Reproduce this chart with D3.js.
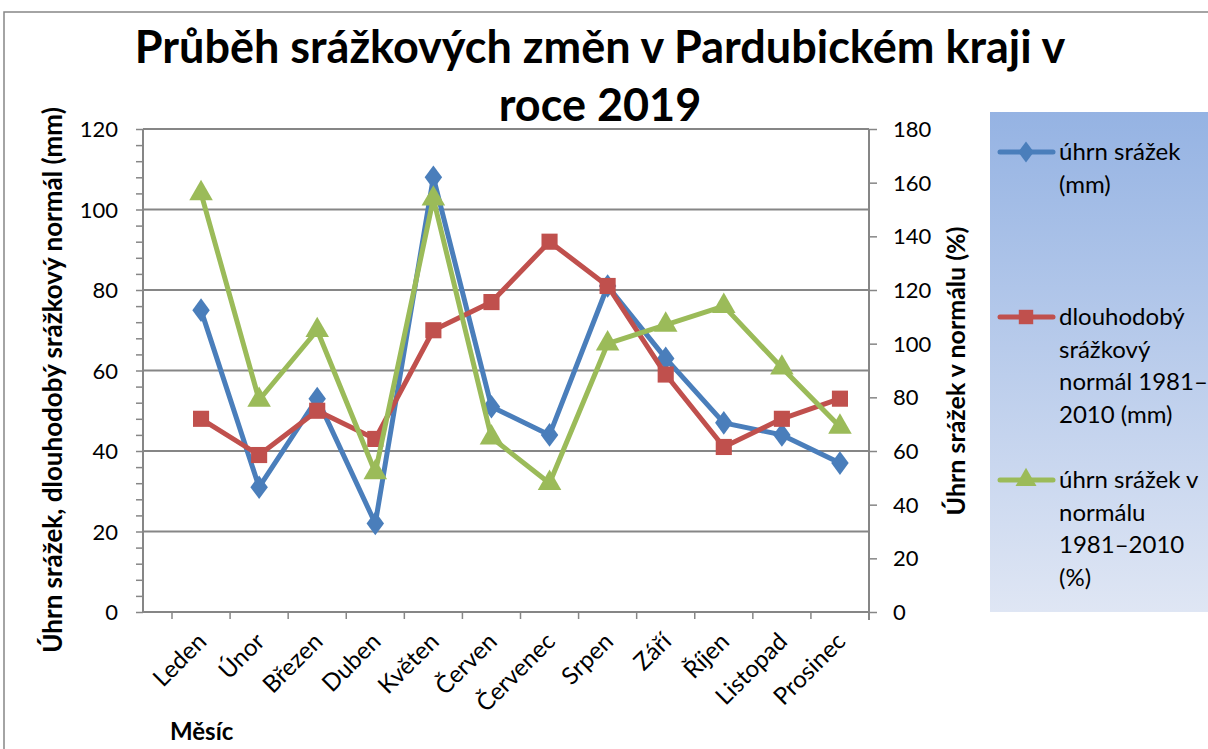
<!DOCTYPE html>
<html>
<head>
<meta charset="utf-8">
<script src="https://cdn.jsdelivr.net/npm/d3@7"></script>
<style>
  body { margin: 0; background: #fff; }
  svg { display: block; font-family: Lato, "Open Sans", sans-serif; }
</style>
</head>
<body>
<svg id="viz" width="1208" height="749"></svg>
<script>
// data
var months = ['Leden', 'Únor', 'Březen', 'Duben', 'Květen', 'Červen',
  'Červenec', 'Srpen', 'Září', 'Říjen', 'Listopad', 'Prosinec'];
var srazkyMm = [75, 31, 53, 22, 108, 51, 44, 81, 63, 47, 44, 37];
var normalMm = [48, 39, 50, 43, 70, 77, 92, 81, 59, 41, 48, 53];
var srazkyPct = [156, 79, 105, 52, 154, 65, 48, 100, 107, 114, 91, 69];
var leftTicks = [0, 20, 40, 60, 80, 100, 120];
var rightTicks = [0, 20, 40, 60, 80, 100, 120, 140, 160, 180];

var seriesNames = [
  ['úhrn srážek', '(mm)'],
  ['dlouhodobý', 'srážkový', 'normál 1981–', '2010 (mm)'],
  ['úhrn srážek v', 'normálu', '1981–2010', '(%)']
];

(function () {
  'use strict';
  var svg = d3.select('#viz'),
    axisCol = '#868686',
    colors = ['#4a7ebb', '#c0504d', '#9bbb59'],
    plotL = 143, plotR = 869, plotT = 129, plotB = 612;

  // outer chart border
  svg.append('rect').attr('x', 4).attr('y', 12).attr('width', 1220).attr('height', 760)
    .attr('fill', 'none').attr('stroke', axisCol).attr('stroke-width', 1.5);

  var x = d3.scaleBand().domain(months).range([172, plotR]),
    yL = d3.scaleLinear().domain([0, 120]).range([plotB, plotT]),
    yR = d3.scaleLinear().domain([0, 180]).range([plotB, plotT]);

  // gridlines
  svg.append('g').selectAll('line').data(leftTicks.slice(1)).enter().append('line')
    .attr('x1', plotL).attr('x2', plotR)
    .attr('y1', function (d) { return yL(d); }).attr('y2', function (d) { return yL(d); })
    .attr('stroke', axisCol).attr('stroke-width', 2);

  // left axis with minor ticks
  var gL = svg.append('g').attr('transform', 'translate(' + plotL + ',0)')
    .call(d3.axisLeft(yL).tickValues(d3.range(0, 121, 4)).tickSize(7).tickFormat(''));
  gL.select('.domain').remove();
  gL.selectAll('line').attr('stroke', axisCol).attr('stroke-width', 1.5);
  gL.append('line').attr('y1', plotT).attr('y2', plotB).attr('stroke', axisCol).attr('stroke-width', 2);
  svg.append('g').selectAll('text').data(leftTicks).enter().append('text')
    .attr('x', 118).attr('y', function (d) { return yL(d) + 8; })
    .attr('text-anchor', 'end').attr('font-size', 22).attr('fill', '#000')
    .text(function (d) { return d; });

  // right axis
  var gR = svg.append('g').attr('transform', 'translate(' + plotR + ',0)')
    .call(d3.axisRight(yR).tickValues(rightTicks).tickSize(8).tickFormat(''));
  gR.select('.domain').remove();
  gR.selectAll('line').attr('stroke', axisCol).attr('stroke-width', 1.5);
  gR.append('line').attr('y1', plotT).attr('y2', plotB + 8).attr('stroke', axisCol).attr('stroke-width', 2);
  svg.append('g').selectAll('text').data(rightTicks).enter().append('text')
    .attr('x', 893).attr('y', function (d) { return yR(d) + 8; })
    .attr('text-anchor', 'start').attr('font-size', 22).attr('fill', '#000')
    .text(function (d) { return d; });

  // category axis
  svg.append('line').attr('x1', plotL).attr('x2', plotR).attr('y1', plotB).attr('y2', plotB)
    .attr('stroke', axisCol).attr('stroke-width', 2);
  svg.append('g').selectAll('line').data(months).enter().append('line')
    .attr('x1', function (d) { return x(d); }).attr('x2', function (d) { return x(d); })
    .attr('y1', plotB).attr('y2', plotB + 7)
    .attr('stroke', axisCol).attr('stroke-width', 1.5);
  svg.append('g').selectAll('text').data(months).enter().append('text')
    .attr('transform', function (d) {
      return 'translate(' + (x(d) + x.bandwidth() / 2 + 7) + ',' + (plotB + 31) + ') rotate(-45)';
    })
    .attr('text-anchor', 'end').attr('font-size', 24).attr('fill', '#000')
    .text(function (d) { return d; });

  // lines
  var cx = function (d, i) { return x(months[i]) + x.bandwidth() / 2; };
  var sets = [
    { vals: srazkyMm, y: yL, sym: d3.symbolDiamond, size: 200 },
    { vals: normalMm, y: yL, sym: d3.symbolSquare, size: 260 },
    { vals: srazkyPct, y: yR, sym: d3.symbolTriangle, size: 240 }
  ];
  sets.forEach(function (s, k) {
    var line = d3.line().x(cx).y(function (d) { return s.y(d); });
    svg.append('path').datum(s.vals).attr('d', line)
      .attr('fill', 'none').attr('stroke', colors[k]).attr('stroke-width', 5)
      .attr('stroke-linejoin', 'round');
    svg.append('g').selectAll('path').data(s.vals).enter().append('path')
      .attr('d', d3.symbol().type(s.sym).size(s.size))
      .attr('transform', function (d, i) {
        return 'translate(' + cx(d, i) + ',' + s.y(d) + ')' + (k === 0 ? ' scale(1.15,0.9)' : '');
      })
      .attr('fill', colors[k]);
  });

  // titles
  svg.append('text').attr('x', 600).attr('y', 63).attr('text-anchor', 'middle')
    .attr('font-size', 45).attr('font-weight', 'bold').text('Průběh srážkových změn v Pardubickém kraji v');
  svg.append('text').attr('x', 600).attr('y', 121).attr('text-anchor', 'middle')
    .attr('font-size', 45).attr('font-weight', 'bold').text('roce 2019');
  svg.append('text').attr('transform', 'translate(62,380) rotate(-90)').attr('text-anchor', 'middle')
    .attr('font-size', 26).attr('font-weight', 'bold').text('Úhrn srážek, dlouhodobý srážkový normál (mm)');
  svg.append('text').attr('transform', 'translate(965,371) rotate(-90)').attr('text-anchor', 'middle')
    .attr('font-size', 25).attr('font-weight', 'bold').text('Úhrn srážek v normálu (%)');
  svg.append('text').attr('x', 170).attr('y', 740)
    .attr('font-size', 24).attr('font-weight', 'bold').text('Měsíc');

  // legend
  var grad = svg.append('defs').append('linearGradient').attr('id', 'lg')
    .attr('x1', 0).attr('y1', 0).attr('x2', 0).attr('y2', 1);
  grad.append('stop').attr('offset', 0).attr('stop-color', '#95b3e3');
  grad.append('stop').attr('offset', 1).attr('stop-color', '#dfe6f4');
  svg.append('rect').attr('x', 990).attr('y', 112).attr('width', 230).attr('height', 500)
    .attr('fill', 'url(#lg)');
  var legY = [152, 317, 480];
  seriesNames.forEach(function (lines, k) {
    var g = svg.append('g').attr('transform', 'translate(0,' + legY[k] + ')');
    g.append('line').attr('x1', 1000).attr('x2', 1053).attr('stroke', colors[k])
      .attr('stroke-width', 5).attr('stroke-linecap', 'round');
    g.append('path').attr('d', d3.symbol().type(sets[k].sym).size(sets[k].size * 0.8))
      .attr('transform', 'translate(1026,0)' + (k === 0 ? ' scale(1.15,0.9)' : ''))
      .attr('fill', colors[k]);
    lines.forEach(function (t, j) {
      g.append('text').attr('x', 1059).attr('y', 8 + j * 32.5)
        .attr('font-size', 24).attr('fill', '#000').text(t);
    });
  });
})();
</script>
</body>
</html>
